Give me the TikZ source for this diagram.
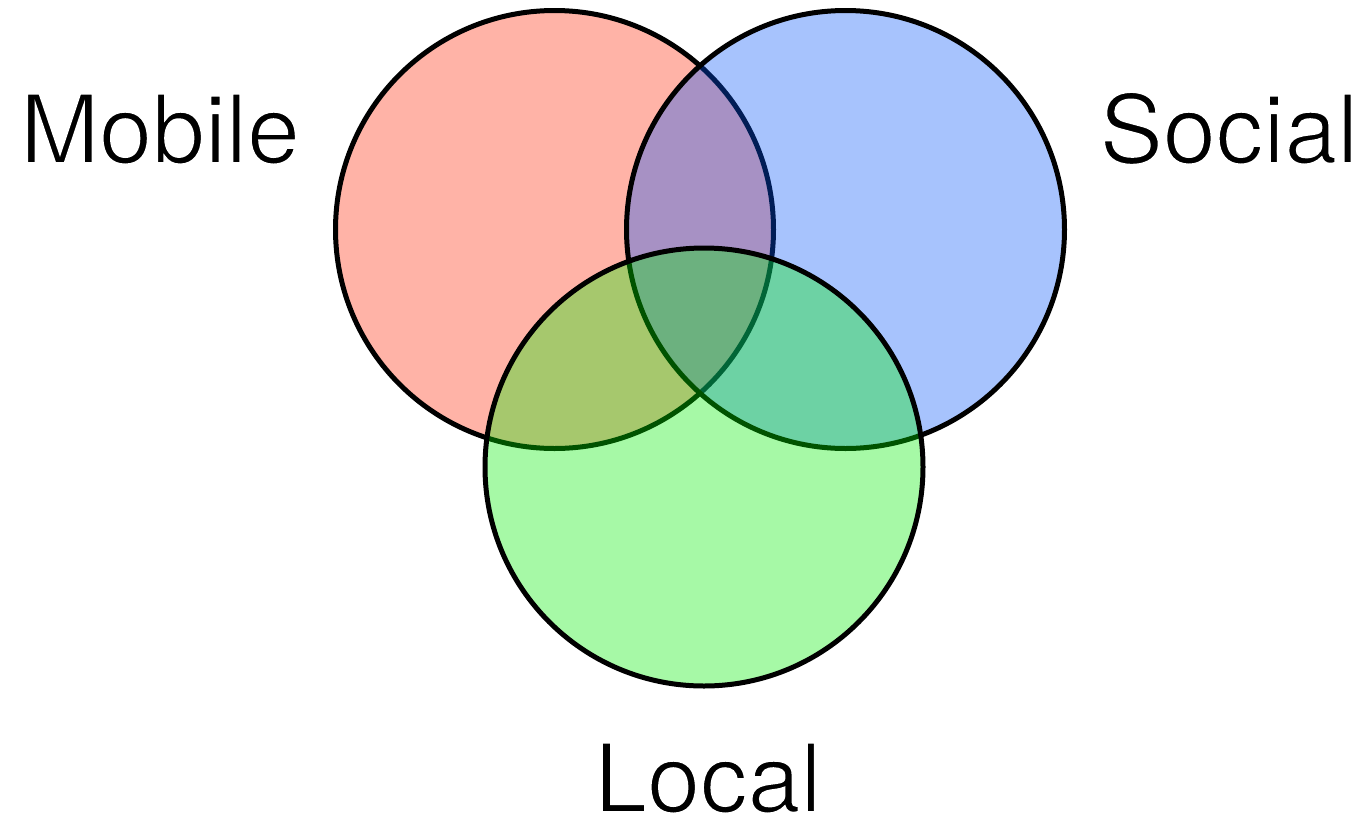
\documentclass[tikz,border=0pt]{standalone}
\usepackage{fontspec}
\setmainfont{TeX Gyre Heros}
\definecolor{cred}{RGB}{255,38,4}
\definecolor{cblue}{RGB}{4,84,249}
\definecolor{cgreen}{RGB}{1,238,0}
\newcommand{\thinglyph}{\special{pdf:literal direct 2 Tr 1 G 1.8 w}}
\tikzset{
  venn/.style={draw=black, line width=5pt, fill opacity=0.35},
  lab/.style={anchor=base, inner sep=0pt, font=\fontsize{95}{100}\selectfont}
}
\begin{document}
\begin{tikzpicture}[x=1pt,y=-1pt]
\useasboundingbox (0,0) rectangle (1363,820);
\path[venn, fill=cred] (554.5,229.5) circle (219);
\path[venn, fill=cblue] (845.5,229.5) circle (219);
\path[venn, fill=cgreen] (704,467) circle (219);
\node[lab] (mobile) at (160,163) {\thinglyph Mobile};
\node[lab] (social) at (1229,163) {\thinglyph Social};
\node[lab] (local) at (708,812) {\thinglyph Local};
\end{tikzpicture}
\end{document}
